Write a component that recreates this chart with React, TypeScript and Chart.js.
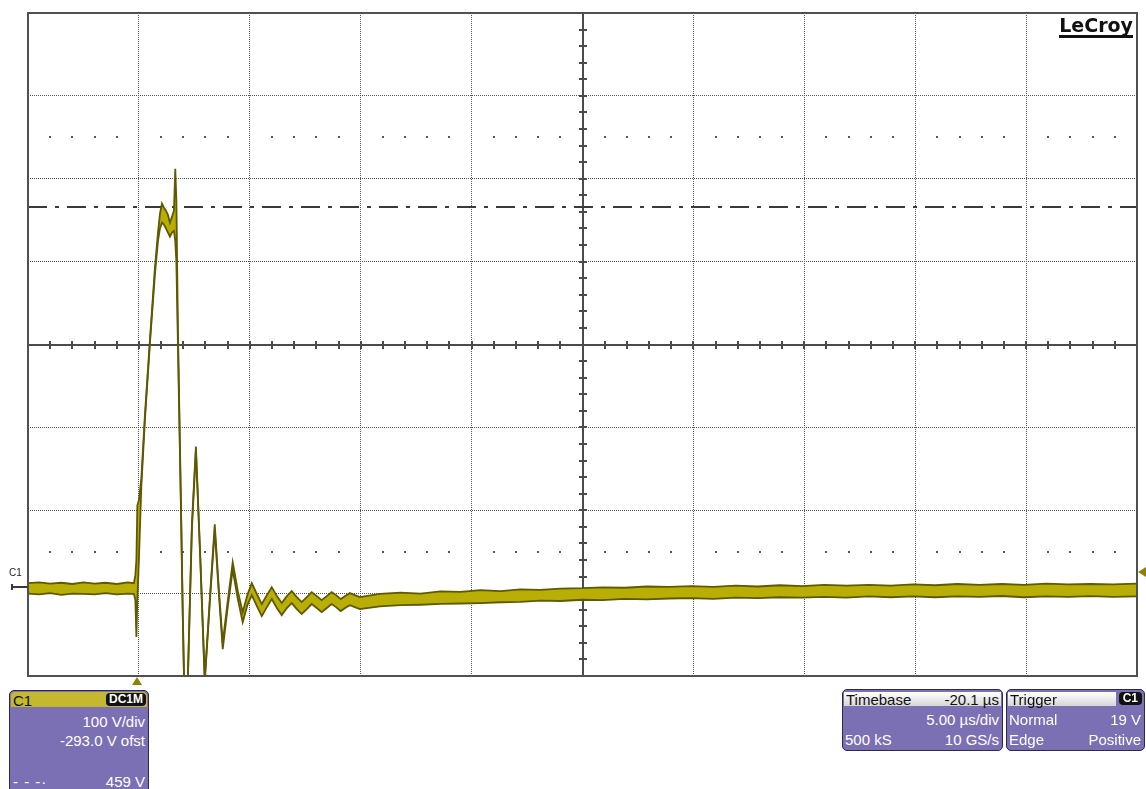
import React, { useEffect, useRef } from "react";
import { Chart, registerables } from "chart.js";

Chart.register(...registerables);

// ---- Data (time in µs relative to trigger, voltage in V; upper/lower envelope of the trace) ----
// before the trigger
const preTimeUs = [-4.9, -4.4, -3.9, -3.4, -2.9, -2.4, -1.9, -1.4, -0.9, -0.4, -0.125];
const preUpperV = [5, 6, 4.5, 5.5, 4, 6, 4.5, 5.5, 4, 6, 5];
const preLowerV = [-7.5, -8.5, -7, -9, -7.5, -8, -8.5, -7, -8.5, -7.5, -8];

// pulse and ringing
const pulseTimeUs = [
  -0.06, -0.013, 0.03, 0.1, 0.21, 0.37, 0.6, 0.82, 0.96, 1.05, 1.14, 1.23, 1.32, 1.41, 1.5, 1.59,
  1.68, 1.74, 1.79, 1.86, 1.99, 2.08, 2.21, 2.31, 2.49, 2.67, 2.87, 3.07, 3.3, 3.52, 3.7, 3.88,
  4.11, 4.33, 4.56, 4.78, 4.99, 5.19, 5.42, 5.64, 5.87, 6.09, 6.32, 6.54, 6.77, 6.99, 7.22, 7.44,
  7.67, 7.89, 8.12, 8.34, 8.57, 8.79, 8.99, 9.2, 9.4, 9.61, 10.06,
];
const pulseUpperV = [
  14.7, 33, 99, 105, 131.6, 207.5, 300, 384.6, 428, 451, 463, 458, 454.5, 449.6, 440, 447,
  454.5, 505, 466.5, 310, 111, -33.5, -208, -106, 76, 170, 35, -110.6, -13, 76, -1, -67,
  -15.4, 30.3, -4.6, -30, -9.4, 5, -8.2, -20.2, -9.4, 0.2, -10.6, -19, -10.6, -4.6, -11.8, -17.8,
  -11.8, -5.8, -10.6, -15.4, -10.6, -5.8, -9.4, -14.2, -10.6, -7, -11.8,
];
const pulseLowerV = [
  -15.4, -60, -15.4, 33, 122, 201.5, 295.4, 377, 418, 433, 440, 437.6, 433, 428, 423, 428,
  430, 418, 392, 292, 103, -39.5, -211, -108, 71, 165, 31.6, -114, -16.6, 69, -5.8, -74.5,
  -22.7, 21, -14.2, -42, -21.5, -9.4, -22.7, -34.7, -23.9, -14.2, -25, -33.5, -25, -19, -26.3, -32.3,
  -26.3, -20.2, -25, -30, -25, -20.2, -23.9, -28.7, -25, -21.5, -26.3,
];

// slow recovery tail
const tailTimeUs = [
  10.96, 11.9, 12.8, 13.7, 14.6, 15.5, 16.4, 17.3, 18.2, 19.1, 20.1, 21, 22, 23, 24, 25, 26, 27,
  28, 29, 30, 31, 32, 33, 34, 35, 36, 37, 38, 39, 40, 41, 42, 43, 44, 45.1,
];
const tailUpperV = [
  -8, -6.5, -7.5, -5, -5.5, -3.5, -4.5, -2.5, -3, -1.5, -1, 0, -0.5, 1, 0.5, 1.5, 0.5, 2,
  1, 2.5, 1.5, 3, 2, 3, 2, 3.5, 2.5, 4, 3, 4, 3, 4.5, 3.5, 4, 3.5, 4.5,
];
const tailLowerV = [
  -23, -21.5, -21, -20, -19.5, -19, -18, -17.5, -16, -16.5, -15, -15.5, -14, -14.5, -13.5, -13, -14, -12.5,
  -13, -12, -12.5, -11.5, -12.5, -11, -12, -11, -12, -11, -11.5, -10.5, -12, -11, -11.5, -10.5, -11.5, -11,
];

// Grid (divisions): 5 µs/div horizontally, 100 V/div vertically
const xTicksUs = [-4.9, 0.1, 5.1, 10.1, 15.1, 20.1, 25.1, 30.1, 35.1, 40.1, 45.1];
const yTicksV = [-107, -7, 93, 193, 293, 393, 493, 593, 693];
const dotRowsV = [543, 43];
const cursorV = 459;
const triggerLevelV = 19;
const triggerTimeUs = 0;
const groundV = 0;

const X_MIN = xTicksUs[0];
const X_MAX = xTicksUs[xTicksUs.length - 1];
const Y_MIN = yTicksV[0];
const CENTER_US = xTicksUs[5];
const CENTER_V = yTicksV[4];

const FONT = '"Liberation Sans", Arial, Helvetica, sans-serif';
const TRACE_FILL = "#b9ae06";
const TRACE_EDGE = "#5f5900";
const MARKER = "#8c8400";
const PANEL = "#7b70b3";

export default function App() {
  const canvasRef = useRef<HTMLCanvasElement | null>(null);

  useEffect(() => {
    const canvas = canvasRef.current;
    if (!canvas) return;
    const timeUs = [...preTimeUs, ...pulseTimeUs, ...tailTimeUs];
    const upperV = [...preUpperV, ...pulseUpperV, ...tailUpperV];
    const lowerV = [...preLowerV, ...pulseLowerV, ...tailLowerV];
    const upper = timeUs.map((t, i) => ({ x: t, y: upperV[i] }));
    const lower = timeUs.map((t, i) => ({ x: t, y: lowerV[i] }));
    const cursor = [
      { x: X_MIN, y: cursorV },
      { x: X_MAX, y: cursorV },
    ];

    const overlay = {
      id: "scopeOverlay",
      beforeDatasetsDraw(chart: any) {
        const { ctx, chartArea: a, scales } = chart;
        const xs = scales.x;
        const ys = scales.y;
        ctx.save();
        ctx.fillStyle = "#555555";
        for (const v of dotRowsV) {
          const py = Math.round(ys.getPixelForValue(v));
          for (let i = 1; i < 50; i++) {
            if (i % 5 === 0) continue;
            const px = Math.round(xs.getPixelForValue(X_MIN + i));
            ctx.fillRect(px - 1, py - 1, 2, 2);
          }
        }
        const cx = Math.round(xs.getPixelForValue(CENTER_US));
        const cy = Math.round(ys.getPixelForValue(CENTER_V));
        ctx.strokeStyle = "#4b4b4b";
        ctx.lineWidth = 2;
        ctx.beginPath();
        ctx.moveTo(a.left, cy);
        ctx.lineTo(a.right, cy);
        ctx.moveTo(cx, a.top);
        ctx.lineTo(cx, a.bottom);
        for (let i = 1; i < 50; i++) {
          const px = Math.round(xs.getPixelForValue(X_MIN + i));
          ctx.moveTo(px, cy - 4);
          ctx.lineTo(px, cy + 4);
        }
        for (let k = 1; k < 40; k++) {
          const py = Math.round(ys.getPixelForValue(Y_MIN + k * 20));
          ctx.moveTo(cx - 4, py);
          ctx.lineTo(cx + 4, py);
        }
        ctx.stroke();
        ctx.restore();
      },
      afterDraw(chart: any) {
        const { ctx, chartArea: a, scales } = chart;
        const xs = scales.x;
        const ys = scales.y;
        ctx.save();
        ctx.strokeStyle = "#505050";
        ctx.lineWidth = 2;
        ctx.strokeRect(a.left, a.top, a.right - a.left, a.bottom - a.top);
        const tx = Math.round(xs.getPixelForValue(triggerTimeUs));
        ctx.fillStyle = MARKER;
        ctx.beginPath();
        ctx.moveTo(tx, a.bottom + 1);
        ctx.lineTo(tx - 5, a.bottom + 9);
        ctx.lineTo(tx + 5, a.bottom + 9);
        ctx.closePath();
        ctx.fill();
        const ty = Math.round(ys.getPixelForValue(triggerLevelV));
        ctx.beginPath();
        ctx.moveTo(a.right + 1, ty);
        ctx.lineTo(a.right + 9, ty - 5);
        ctx.lineTo(a.right + 9, ty + 5);
        ctx.closePath();
        ctx.fill();
        const gy = Math.round(ys.getPixelForValue(groundV));
        ctx.strokeStyle = "#3a3a3a";
        ctx.lineWidth = 2;
        ctx.beginPath();
        ctx.moveTo(11, gy);
        ctx.lineTo(a.left, gy);
        ctx.moveTo(12, gy - 3);
        ctx.lineTo(12, gy + 3);
        ctx.stroke();
        ctx.fillStyle = "#222";
        ctx.font = `10px ${FONT}`;
        ctx.textBaseline = "alphabetic";
        ctx.fillText("C1", 9, gy - 11);
        ctx.restore();
      },
    };

    const chart = new Chart(canvas, {
      type: "line",
      data: {
        datasets: [
          {
            label: "C1 max",
            data: upper,
            borderColor: TRACE_EDGE,
            borderWidth: 1.8,
            pointRadius: 0,
            fill: false,
            tension: 0,
            order: 0,
          },
          {
            label: "C1 min",
            data: lower,
            borderColor: TRACE_EDGE,
            backgroundColor: TRACE_FILL,
            borderWidth: 1.8,
            pointRadius: 0,
            fill: "-1",
            tension: 0,
            order: 1,
          },
          {
            label: "cursor",
            data: cursor,
            borderColor: "#3a3a3a",
            borderWidth: 2,
            borderDash: [19, 8, 4, 8],
            pointRadius: 0,
            fill: false,
            order: 5,
          },
        ],
      },
      options: {
        responsive: false,
        maintainAspectRatio: false,
        animation: false,
        parsing: false as any,
        layout: { padding: { left: 28, top: 13, right: 9, bottom: 113 } },
        plugins: {
          legend: { display: false },
          tooltip: { enabled: false },
        },
        scales: {
          x: {
            type: "linear",
            min: X_MIN,
            max: X_MAX,
            afterBuildTicks: (s: any) => {
              s.ticks = xTicksUs.map((v) => ({ value: v }));
            },
            ticks: { display: false },
            grid: { color: "#555555", lineWidth: 1, drawTicks: false },
            border: { display: false, dash: [1, 1] },
          },
          y: {
            type: "linear",
            min: Y_MIN,
            max: yTicksV[yTicksV.length - 1],
            afterBuildTicks: (s: any) => {
              s.ticks = yTicksV.map((v) => ({ value: v }));
            },
            ticks: { display: false },
            grid: { color: "#555555", lineWidth: 1, drawTicks: false },
            border: { display: false, dash: [1, 1] },
          },
        },
      },
      plugins: [overlay],
    });
    return () => chart.destroy();
  }, []);

  const txt = (extra: React.CSSProperties): React.CSSProperties => ({
    position: "absolute",
    fontFamily: FONT,
    fontSize: 15,
    lineHeight: "15px",
    whiteSpace: "nowrap",
    ...extra,
  });

  return (
    <div
      style={{
        position: "fixed",
        left: 0,
        top: 0,
        width: 1146,
        height: 789,
        background: "#ffffff",
        overflow: "hidden",
      }}
    >
      <canvas ref={canvasRef} width={1146} height={789} style={{ position: "absolute", left: 0, top: 0, width: 1146, height: 789 }} />

      <div
        style={{
          position: "absolute",
          right: 13,
          top: 15,
          fontFamily: '"DejaVu Sans", sans-serif',
          fontWeight: 700,
          fontSize: 19,
          lineHeight: "20px",
          color: "#111",
          borderBottom: "3px solid #111",
        }}
      >
        LeCroy
      </div>

      <div
        style={{
          position: "absolute",
          left: 9,
          top: 690,
          width: 138,
          height: 110,
          background: PANEL,
          border: "1px solid #2d2a45",
          borderRadius: 5,
        }}
      >
        <div style={{ position: "absolute", left: 1, right: 1, top: 1, height: 15, background: "#c4b92e", borderRadius: "4px 4px 0 0" }} />
        <div style={txt({ left: 3, top: 2, color: "#111" })}>C1</div>
        <div
          style={txt({
            right: 2,
            top: 2,
            fontSize: 12,
            lineHeight: "13px",
            fontWeight: 700,
            color: "#ffffff",
            background: "#111",
            borderRadius: 4,
            padding: "0 3px",
          })}
        >
          DC1M
        </div>
        <div style={txt({ right: 3, top: 23, color: "#fff" })}>100 V/div</div>
        <div style={txt({ right: 3, top: 42, color: "#fff" })}>-293.0 V ofst</div>
        <div style={txt({ left: 3, top: 83, color: "#fff", letterSpacing: 1 })}>- - -·</div>
        <div style={txt({ right: 3, top: 83, color: "#fff" })}>459 V</div>
      </div>

      <div
        style={{
          position: "absolute",
          left: 842,
          top: 689,
          width: 159,
          height: 60,
          background: PANEL,
          border: "1px solid #2d2a45",
          borderRadius: 5,
        }}
      >
        <div style={{ position: "absolute", left: 1, right: 1, top: 2, height: 14, background: "linear-gradient(#ffffff, #d6d6d6)" }} />
        <div style={txt({ left: 3, top: 2, color: "#111" })}>Timebase</div>
        <div style={txt({ right: 3, top: 2, color: "#111" })}>-20.1 µs</div>
        <div style={txt({ right: 3, top: 22, color: "#fff" })}>5.00 µs/div</div>
        <div style={txt({ left: 2, top: 42, color: "#fff" })}>500 kS</div>
        <div style={txt({ right: 3, top: 42, color: "#fff" })}>10 GS/s</div>
      </div>

      <div
        style={{
          position: "absolute",
          left: 1006,
          top: 689,
          width: 137,
          height: 60,
          background: PANEL,
          border: "1px solid #2d2a45",
          borderRadius: 5,
        }}
      >
        <div style={{ position: "absolute", left: 1, right: 28, top: 2, height: 14, background: "linear-gradient(#ffffff, #d6d6d6)" }} />
        <div style={txt({ left: 3, top: 2, color: "#111" })}>Trigger</div>
        <div
          style={txt({
            right: 2,
            top: 2,
            fontSize: 12,
            lineHeight: "13px",
            fontWeight: 700,
            color: "#ffffff",
            background: "#111",
            borderRadius: 4,
            padding: "0 4px",
          })}
        >
          C1
        </div>
        <div style={txt({ left: 2, top: 22, color: "#fff" })}>Normal</div>
        <div style={txt({ right: 3, top: 22, color: "#fff" })}>19 V</div>
        <div style={txt({ left: 2, top: 42, color: "#fff" })}>Edge</div>
        <div style={txt({ right: 3, top: 42, color: "#fff" })}>Positive</div>
      </div>
    </div>
  );
}
